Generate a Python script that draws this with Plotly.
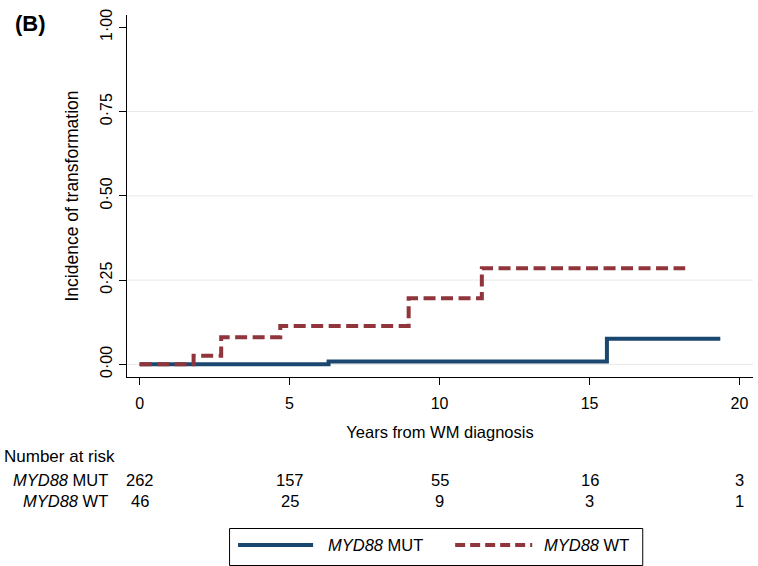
import plotly.graph_objects as go

# ---- data ----
mut_years = [0, 6.30, 15.58, 19.36]
mut_inc = [0.0, 0.008, 0.076, 0.076]
wt_years = [0, 1.80, 2.72, 4.69, 8.97, 11.41, 18.19]
wt_inc = [0.0, 0.025, 0.080, 0.114, 0.196, 0.285, 0.285]

risk_times = [0, 5, 10, 15, 20]
risk_mut = [262, 157, 55, 16, 3]
risk_wt = [46, 25, 9, 3, 1]

y_tickvals = [0, 0.25, 0.5, 0.75, 1.0]
y_ticktext = ["0·00", "0·25", "0·50", "0·75", "1·00"]
x_tickvals = [0, 5, 10, 15, 20]

NAVY = "#1a476f"
MAROON = "#90353b"
FONT = "Liberation Sans, Arial, sans-serif"
FS = 16
FS_ROW = 16.5

fig = go.Figure()
fig.add_trace(go.Scatter(x=mut_years, y=mut_inc, mode="lines", line_shape="hv",
                         line=dict(color=NAVY, width=4), name="MYD88 MUT", showlegend=False))
fig.add_trace(go.Scatter(x=wt_years, y=wt_inc, mode="lines", line_shape="hv",
                         line=dict(color=MAROON, width=4, dash="12px,5.5px"), name="MYD88 WT",
                         showlegend=False))

# grid lines
for v in y_tickvals[:-1]:
    fig.add_shape(type="line", xref="paper", yref="y", x0=0, x1=1, y0=v, y1=v,
                  line=dict(color="#e8e8e8", width=1), layer="below")

W, H = 758, 566
L, R, T, B = 127, 5.3, 15, 189
pw = W - L - R
ph = H - T - B

def px(x):
    return (x - L) / pw

def py(y):
    return (H - B - y) / ph

rowfont = dict(size=FS_ROW)
ann = []
ann.append(dict(text="<b>(B)</b>", x=px(13), y=py(24), xref="paper", yref="paper",
                xanchor="left", yanchor="middle", showarrow=False,
                font=dict(family="Liberation Sans, Arial", size=22, color="black")))
ann.append(dict(text="Number at risk", x=px(2), y=py(457), xref="paper", yref="paper",
                xanchor="left", yanchor="middle", showarrow=False, font=dict(size=17)))
ann.append(dict(text="<i>MYD88</i> MUT", x=px(110), y=py(480), xref="paper", yref="paper",
                xanchor="right", yanchor="middle", showarrow=False, font=rowfont))
ann.append(dict(text="<i>MYD88</i> WT", x=px(110), y=py(501), xref="paper", yref="paper",
                xanchor="right", yanchor="middle", showarrow=False, font=rowfont))
for t, a, b in zip(risk_times, risk_mut, risk_wt):
    ann.append(dict(text=str(a), x=t, y=py(480), xref="x", yref="paper",
                    xanchor="center", yanchor="middle", showarrow=False, font=rowfont))
    ann.append(dict(text=str(b), x=t, y=py(501), xref="x", yref="paper",
                    xanchor="center", yanchor="middle", showarrow=False, font=rowfont))

# legend (drawn manually)
shapes = []
shapes.append(dict(type="rect", xref="paper", yref="paper", x0=px(229.5), x1=px(642.5),
                   y0=py(565.5), y1=py(528.5), line=dict(color="black", width=1),
                   fillcolor="white"))
shapes.append(dict(type="line", xref="paper", yref="paper", x0=px(238), x1=px(313),
                   y0=py(545), y1=py(545), line=dict(color=NAVY, width=4)))
shapes.append(dict(type="line", xref="paper", yref="paper", x0=px(455), x1=px(532),
                   y0=py(545), y1=py(545), line=dict(color=MAROON, width=4, dash="10px,5px")))
ann.append(dict(text="<i>MYD88</i> MUT", x=px(326), y=py(545), xref="paper", yref="paper",
                xanchor="left", yanchor="middle", showarrow=False, font=rowfont))
ann.append(dict(text="<i>MYD88</i> WT", x=px(542), y=py(545), xref="paper", yref="paper",
                xanchor="left", yanchor="middle", showarrow=False, font=rowfont))

for s in shapes:
    fig.add_shape(**s)

fig.update_layout(
    width=W, height=H,
    margin=dict(l=L, r=R, t=T, b=B, pad=0),
    paper_bgcolor="white", plot_bgcolor="white",
    font=dict(family=FONT, size=FS, color="black"),
    annotations=ann,
    showlegend=False,
    xaxis=dict(range=[-0.42, 20.45], tickvals=x_tickvals, ticks="outside", ticklen=7,
               tickcolor="black", showline=True, linecolor="black", linewidth=1,
               showgrid=False, zeroline=False, automargin=False, ticklabelstandoff=5,
               title=dict(text="Years from WM diagnosis", standoff=15,
                          font=dict(size=16.5)),
               tickfont=dict(size=FS)),
    yaxis=dict(range=[-0.0377, 1.0365], tickvals=y_tickvals, ticktext=y_ticktext,
               tickangle=-90, ticks="outside", ticklen=7, tickcolor="black",
               showline=True, linecolor="black", linewidth=1, showgrid=False,
               zeroline=False, automargin=False, ticklabelstandoff=1,
               title=dict(text="Incidence of transformation", standoff=14,
                          font=dict(size=17.5)),
               tickfont=dict(size=FS)),
)

fig.write_html("out.html", config={"displayModeBar": False},
               post_script="document.body.style.margin='0';")
